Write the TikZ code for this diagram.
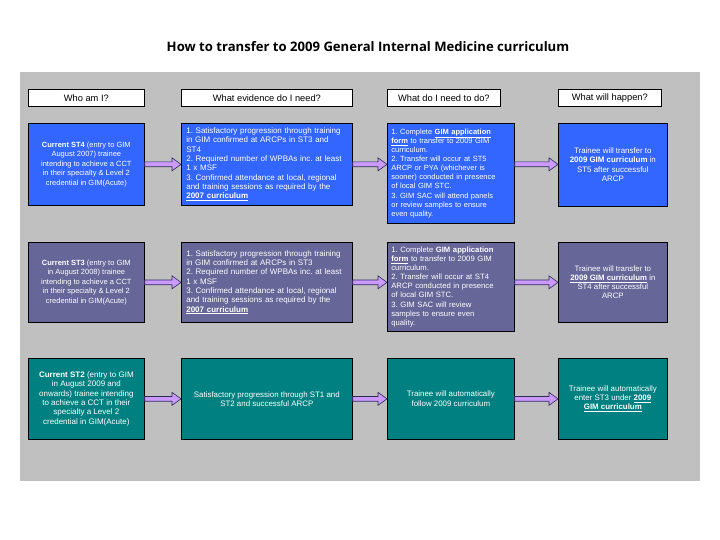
\documentclass[tikz,border=0pt]{standalone}
\usepackage{fontspec}
\setmainfont{Liberation Sans}
\newfontfamily\titlefont{Open Sans}
\usetikzlibrary{calc}
\frenchspacing
\definecolor{bgray}{HTML}{C0C0C0}
\definecolor{rowblue}{HTML}{3366FF}
\definecolor{rowslate}{HTML}{666699}
\definecolor{rowteal}{HTML}{008080}
\definecolor{arrfill}{HTML}{CC99FF}
\definecolor{arrline}{HTML}{2B2B55}
\newcommand\blkarr[2]{%
  \draw[blk] ([yshift=2.4pt]#1) -- ([xshift=-9pt,yshift=2.4pt]#2) -- ([xshift=-9pt,yshift=6.5pt]#2) -- (#2)
   -- ([xshift=-9pt,yshift=-6.5pt]#2) -- ([xshift=-9pt,yshift=-2.4pt]#2) -- ([yshift=-2.4pt]#1) -- cycle;}
\newcommand\ul[1]{\underline{\textbf{#1}}}
\newcommand\fs[2]{\fontsize{#1}{#2}\selectfont}
\begin{document}
\begin{tikzpicture}[x=1pt,y=-1pt,
  base/.style={draw=black, line width=0.7pt, anchor=north west, inner xsep=3pt, inner ysep=0pt,
    font=\fs{7.5}{9.6}},
  hdr/.style={base, fill=white, text=black, minimum height=17pt, align=center, font=\fs{9.3}{10}},
  cbox/.style={base, text=white, align=center},
  lbox/.style={base, text=white, align=left},
  blk/.style={draw=arrline, fill=arrfill, line width=0.6pt, line join=miter}]
\useasboundingbox (0,0) rectangle (720,540);
\node[font=\titlefont\bfseries\fs{13.1}{15}] (title) at (368,47)
  {How to transfer to 2009 General Internal Medicine curriculum};
\node[fill=bgray, anchor=north west, minimum width=680pt, minimum height=409pt, inner sep=0pt] (panel) at (20,72) {};
% headers
\node[hdr, minimum width=116pt] (h1) at (28,89) {Who am I?};
\node[hdr, minimum width=171pt] (h2) at (181,89) {What evidence do I need?};
\node[hdr, minimum width=113pt] (h3) at (387,89) {What do I need to do?};
\node[hdr, minimum width=103pt] (h4) at (558,89) {What will happen?};
% row 1
\node[cbox, fill=rowblue, minimum width=116pt, minimum height=82pt] (b11) at (28,123)
  {\textbf{Current ST4} (entry to GIM\\August 2007) trainee\\intending to achieve a CCT\\in their specialty \& Level 2\\credential in GIM(Acute)};
\node[lbox, fill=rowblue, inner xsep=5pt, text width=161pt, minimum width=171pt, minimum height=82pt, font=\fs{8}{9.3}] (b12) at (181,123)
  {1. Satisfactory progression through training\\in GIM confirmed at ARCPs in ST3 and\\ST4\\2. Required number of WPBAs inc. at least\\1 x MSF\\3. Confirmed attendance at local, regional\\and training sessions as required by the\\\ul{2007 curriculum}};
\node[lbox, fill=rowblue, inner xsep=4pt, text width=119pt, minimum width=127pt, minimum height=100pt, font=\fs{7.5}{9.1}] (b13) at (387,123)
  {1. Complete \ul{GIM application}\\\ul{form} to transfer to 2009 GIM\\curriculum.\\2. Transfer will occur at ST5\\ARCP or PYA (whichever is\\sooner) conducted in presence\\of local GIM STC.\\3. GIM SAC will attend panels\\or review samples to ensure\\even quality.};
\node[cbox, fill=rowblue, minimum width=109pt, minimum height=83pt, font=\fs{7.9}{9.4}] (b14) at (558,123)
  {Trainee will transfer to\\\textbf{2009 GIM curriculum} in\\ST5 after successful\\ARCP};
% row 2
\node[cbox, fill=rowslate, minimum width=116pt, minimum height=80pt] (b21) at (28,242)
  {\textbf{Current ST3} (entry to GIM\\in August 2008) trainee\\intending to achieve a CCT\\in their specialty \& Level 2\\credential in GIM(Acute)};
\node[lbox, fill=rowslate, inner xsep=5pt, text width=161pt, minimum width=171pt, minimum height=80pt, font=\fs{8}{9.3}] (b22) at (181,242)
  {1. Satisfactory progression through training\\in GIM confirmed at ARCPs in ST3\\2. Required number of WPBAs inc. at least\\1 x MSF\\3. Confirmed attendance at local, regional\\and training sessions as required by the\\\ul{2007 curriculum}};
\node[lbox, fill=rowslate, inner xsep=4pt, text width=119pt, minimum width=127pt, minimum height=89pt, font=\fs{7.7}{9.1}] (b23) at (387,242)
  {1. Complete \textbf{GIM application}\\\ul{form} to transfer to 2009 GIM\\curriculum.\\2. Transfer will occur at ST4\\ARCP conducted in presence\\of local GIM STC.\\3. GIM SAC will review\\samples to ensure even\\quality.};
\node[cbox, fill=rowslate, minimum width=109pt, minimum height=80pt, font=\fs{7.8}{9.2}] (b24) at (558,242)
  {Trainee will transfer to\\\ul{2009 GIM curriculum} in\\ST4 after successful\\ARCP};
% row 3
\node[cbox, fill=rowteal, minimum width=116pt, minimum height=81pt, font=\fs{8}{9.3}] (b31) at (28,358)
  {\textbf{Current ST2} (entry to GIM\\in August 2009 and\\onwards) trainee intending\\to achieve a CCT in their\\specialty a Level 2\\credential in GIM(Acute)};
\node[cbox, fill=rowteal, minimum width=171pt, minimum height=81pt, font=\fs{7.9}{9.3}] (b32) at (181,358)
  {Satisfactory progression through ST1 and\\ST2 and successful ARCP};
\node[cbox, fill=rowteal, minimum width=127pt, minimum height=81pt, font=\fs{7.9}{9.6}] (b33) at (387,358)
  {Trainee will automatically\\follow 2009 curriculum};
\node[cbox, fill=rowteal, minimum width=109pt, minimum height=81pt, font=\fs{7.9}{9.2}] (b34) at (558,358)
  {Trainee will automatically\\enter ST3 under \ul{2009}\\\ul{GIM curriculum}};
% arrow end points
\coordinate (e12) at (b12.west |- b11.east);
\coordinate (e13) at (b13.west |- b11.east);
\coordinate (s13) at (b13.east |- b11.east);
\coordinate (e14) at (b14.west |- b11.east);
\coordinate (e22) at (b22.west |- b21.east);
\coordinate (e23) at (b23.west |- b21.east);
\coordinate (s23) at (b23.east |- b21.east);
\coordinate (e24) at (b24.west |- b21.east);
\blkarr{b11.east}{e12}
\blkarr{b12.east}{e13}
\blkarr{s13}{e14}
\blkarr{b21.east}{e22}
\blkarr{b22.east}{e23}
\blkarr{s23}{e24}
\blkarr{b31.east}{b32.west}
\blkarr{b32.east}{b33.west}
\blkarr{b33.east}{b34.west}
\end{tikzpicture}
\end{document}
